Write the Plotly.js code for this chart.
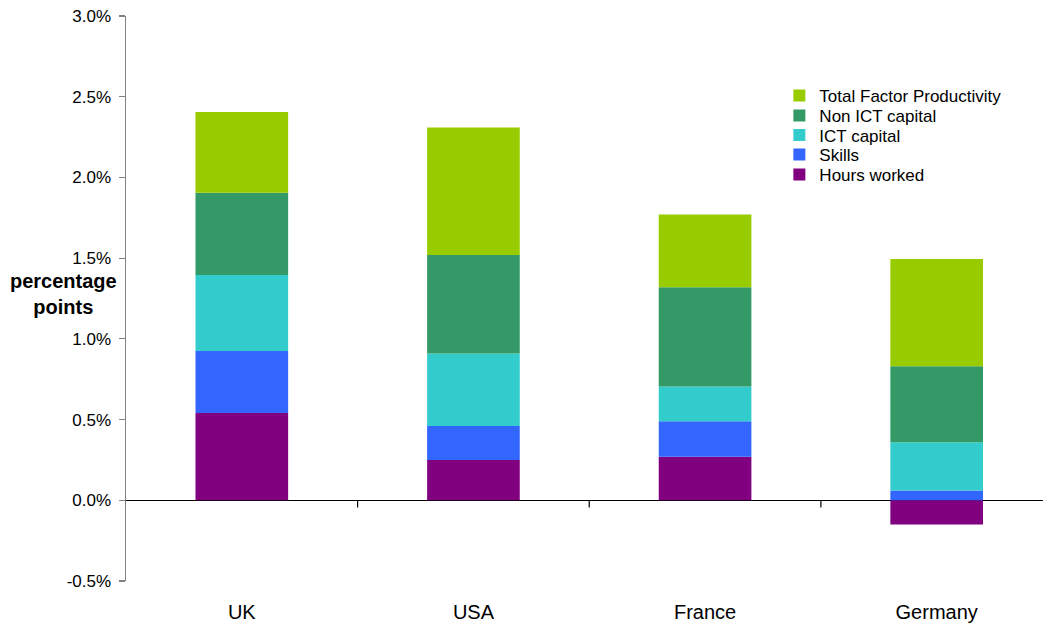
<!DOCTYPE html>
<html>
<head>
<meta charset="utf-8">
<script src="https://cdn.plot.ly/plotly-3.0.1.min.js"></script>
<style>html,body{margin:0;padding:0;background:#fff;}#chart{width:1043px;height:626px;}</style>
</head>
<body>
<div id="chart"></div>
<script>
const countries = ["UK", "USA", "France", "Germany"];
const hoursWorked = [0.54, 0.25, 0.27, -0.15];
const skills = [0.385, 0.21, 0.22, 0.06];
const ictCapital = [0.47, 0.45, 0.215, 0.30];
const nonIctCapital = [0.51, 0.61, 0.615, 0.47];
const tfp = [0.50, 0.79, 0.45, 0.665];
const seriesNames = ["Hours worked", "Skills", "ICT capital", "Non ICT capital", "Total Factor Productivity"];
const seriesColors = ["#800080", "#3366FF", "#33CCCC", "#339966", "#99CC00"];
const yTickVals = [-0.5, 0, 0.5, 1.0, 1.5, 2.0, 2.5, 3.0];
const yTickText = ["-0.5%", "0.0%", "0.5%", "1.0%", "1.5%", "2.0%", "2.5%", "3.0%"];

const legendIds = ["legend5", "legend4", "legend3", "legend2", "legend"];
const allSeries = [hoursWorked, skills, ictCapital, nonIctCapital, tfp];
const traces = allSeries.map((vals, i) => ({
  type: "bar",
  x: countries,
  y: vals,
  name: seriesNames[i],
  legend: legendIds[i],
  marker: {color: seriesColors[i], line: {width: 0}},
  hoverinfo: "x+y+name"
}));

const boundaryShapes = [0.5, 1.5, 2.5].map(b => ({
  type: "line", xref: "x", yref: "y",
  x0: b, x1: b, y0: 0, y1: -0.045,
  line: {color: "#000", width: 1.2}
}));

// plot area: top 16px, bottom 581px
const plotTop = 16, plotBottom = 581;
const legendCenters = [96, 116, 135.5, 155, 175]; // pixel rows, top to bottom
function legendAt(px) {
  return {
    x: 0.7125, y: (plotBottom - px) / (plotBottom - plotTop),
    xanchor: "left", yanchor: "middle",
    font: {size: 17, color: "#000"},
    bgcolor: "rgba(0,0,0,0)",
    itemwidth: 30
  };
}

const layout = {
  width: 1043, height: 626,
  margin: {l: 126, r: 0, t: 16, b: 45},
  paper_bgcolor: "#fff", plot_bgcolor: "#fff",
  barmode: "relative",
  bargap: 0.6,
  font: {family: "Liberation Sans, Arial, sans-serif", color: "#000"},
  xaxis: {
    type: "category",
    range: [-0.5, 3.459],
    showgrid: false, zeroline: false, showline: false,
    ticks: "",
    tickfont: {size: 20, color: "#000"},
    ticklabelstandoff: 17
  },
  yaxis: {
    range: [-0.5, 3.0],
    tickvals: yTickVals, ticktext: yTickText,
    tickfont: {size: 17, color: "#000"},
    ticklabelstandoff: 4,
    showgrid: false,
    showline: true, linecolor: "#808080", linewidth: 1.5,
    ticks: "outside", ticklen: 6, tickcolor: "#808080", tickwidth: 1.2,
    zeroline: true, zerolinecolor: "#000", zerolinewidth: 1.3
  },
  shapes: boundaryShapes,
  annotations: [{
    xref: "paper", yref: "paper",
    x: -0.068, y: 0.508,
    xanchor: "center", yanchor: "middle",
    text: "<b>percentage<br>points</b>",
    showarrow: false,
    font: {size: 20, color: "#000"}
  }],
  legend: legendAt(legendCenters[0]),
  legend2: legendAt(legendCenters[1]),
  legend3: legendAt(legendCenters[2]),
  legend4: legendAt(legendCenters[3]),
  legend5: legendAt(legendCenters[4]),
  showlegend: true
};

Plotly.newPlot("chart", traces, layout, {displayModeBar: false, staticPlot: true});
</script>
</body>
</html>
